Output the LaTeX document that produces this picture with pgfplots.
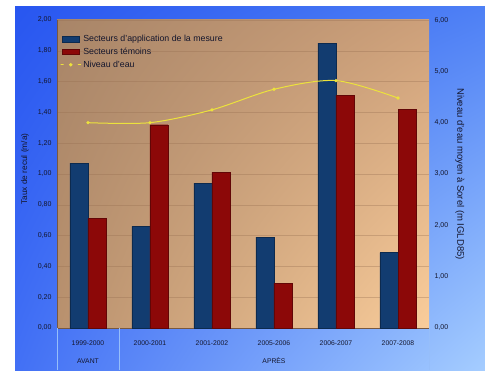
\documentclass[border=0pt]{standalone}
\usepackage{pgfplots}
\pgfplotsset{compat=1.18}
\usetikzlibrary{shadings}
\usepackage{fontspec}
\setmainfont{Liberation Sans}
\definecolor{bblue}{RGB}{18,60,112}
\definecolor{bred}{RGB}{140,8,8}
\definecolor{lyel}{RGB}{236,226,60}
\definecolor{tickc}{RGB}{20,22,45}
\definecolor{bgUL}{RGB}{40,86,240}
\definecolor{bgUR}{RGB}{78,128,245}
\definecolor{bgLL}{RGB}{66,112,245}
\definecolor{bgLR}{RGB}{165,205,255}
\definecolor{paUL}{RGB}{168,133,104}
\definecolor{paUR}{RGB}{205,160,122}
\definecolor{paLL}{RGB}{185,145,110}
\definecolor{paLR}{RGB}{250,205,155}
\definecolor{sepc}{RGB}{150,190,250}
\definecolor{gridc}{RGB}{150,110,80}
\begin{document}
\begin{tikzpicture}
\path[use as bounding box] (0pt,0pt) rectangle (485pt,370pt);
\fill[white] (0pt,0pt) rectangle (485pt,370pt);
\shade[upper left=bgUL, upper right=bgUR, lower left=bgLL, lower right=bgLR]
  (15pt,0pt) rectangle (485pt,363pt);
\shade[upper left=paUL, upper right=paUR, lower left=paLL, lower right=paLR]
  (57pt,42pt) rectangle (429pt,350pt);
\begin{axis}[
  at={(57pt,42pt)}, anchor=south west, scale only axis,
  width=372pt, height=308pt,
  xmin=-0.5, xmax=5.5, ymin=0, ymax=2,
  ybar=0pt, bar width=18pt,
  axis x line*=bottom, axis y line*=left,
  axis line style={draw=gridc!80!black},
  xtick={0,1,2,3,4,5},
  xticklabels={1999-2000,2000-2001,2001-2002,2005-2006,2006-2007,2007-2008},
  ytick={0,0.2,0.4,0.6,0.8,1.0,1.2,1.4,1.6,1.8,2.0},
  major tick style={draw=none},
  ymajorgrids, grid style={draw=gridc, opacity=0.35, line width=0.4pt},
  /pgf/number format/assume math mode=true,
  yticklabel style={/pgf/number format/.cd, fixed, fixed zerofill, precision=2, use comma,
     /tikz/.cd, font=\fontsize{7}{8}\selectfont, text=tickc, xshift=-2pt},
  xticklabel style={font=\fontsize{6.8}{8}\selectfont, text=tickc, yshift=-5pt},
  clip=false,
  legend style={at={(0.0,0.965)}, anchor=north west, draw=none, fill=none,
     font=\fontsize{8.8}{10}\selectfont, text=tickc, row sep=1pt,
     nodes={inner sep=2pt}},
  legend cell align=left,
]
\addplot[fill=bblue, draw=bblue!70!black, area legend] coordinates {(0,1.07) (1,0.66) (2,0.94) (3,0.59) (4,1.85) (5,0.49)};
\addlegendentry{Secteurs d'application de la mesure}
\addplot[fill=bred, draw=bred!70!black, area legend] coordinates {(0,0.71) (1,1.32) (2,1.01) (3,0.29) (4,1.51) (5,1.42)};
\addlegendentry{Secteurs témoins}
\addlegendimage{line legend, color=lyel, line width=1pt, mark=*, mark size=1.1pt, mark options={fill=lyel}}
\addlegendentry{Niveau d'eau}
\draw[sepc, line width=0.5pt] (axis cs:-0.5,0) -- ++(0pt,-42pt);
\draw[sepc, line width=0.5pt] (axis cs:0.5,0) -- ++(0pt,-42pt);
\draw[sepc, line width=0.5pt] (axis cs:5.5,0) -- ++(0pt,-42pt);
\node[font=\fontsize{6.8}{8}\selectfont, text=tickc] at ([yshift=-33pt]axis cs:0,0) {AVANT};
\node[font=\fontsize{6.8}{8}\selectfont, text=tickc] at ([yshift=-33pt]axis cs:3,0) {APRÈS};
\node[rotate=90, font=\fontsize{8.3}{9}\selectfont, text=tickc] at (axis description cs:-0.086,0.516) {Taux de recul (m/a)};
\node[rotate=-90, font=\fontsize{9.5}{10}\selectfont, text=tickc] at (axis description cs:1.083,0.5) {Niveau d'eau moyen à Sorel (m IGLD85)};
\end{axis}
\begin{axis}[
  at={(57pt,42pt)}, anchor=south west, scale only axis,
  width=372pt, height=308pt,
  xmin=-0.5, xmax=5.5, ymin=0, ymax=6,
  axis x line=none, axis y line*=right,
  axis line style={draw=none},
  ytick={0,1,2,3,4,5,6},
  major tick style={draw=none},
  /pgf/number format/assume math mode=true,
  yticklabel style={/pgf/number format/.cd, fixed, fixed zerofill, precision=2, use comma,
     /tikz/.cd, font=\fontsize{7}{8}\selectfont, text=tickc, xshift=2pt},
]
\addplot[color=lyel, line width=1pt, smooth, mark=*, mark size=1.1pt, mark options={fill=lyel}] coordinates {(0,4.0) (1,4.0) (2,4.25) (3,4.65) (4,4.82) (5,4.48)};
\end{axis}
\end{tikzpicture}
\end{document}
